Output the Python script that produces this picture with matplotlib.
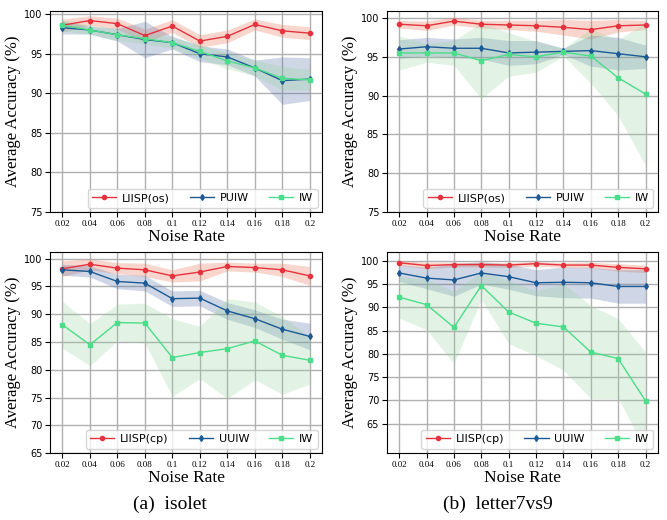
#imports
import matplotlib
matplotlib.use("Agg")
import matplotlib.pyplot as plt
import numpy as np

#noise rates and tick labels
noise = [0.02, 0.04, 0.06, 0.08, 0.1, 0.12, 0.14, 0.16, 0.18, 0.2]
noise_labels = ["0.02", "0.04", "0.06", "0.08", "0.1", "0.12", "0.14", "0.16", "0.18", "0.2"]

#isolet, one-sided (os)
iso_os_liisp = [98.6, 99.2, 98.8, 97.3, 98.5, 96.6, 97.2, 98.7, 97.9, 97.6]
iso_os_liisp_sd = [0.8, 0.6, 0.7, 0.8, 0.8, 0.8, 0.8, 0.7, 0.8, 0.8]
iso_os_puiw = [98.3, 98.0, 97.4, 96.8, 96.4, 95.0, 94.6, 93.2, 91.6, 91.8]
iso_os_puiw_sd = [0.8, 0.5, 0.8, 2.3, 0.8, 1.0, 1.0, 1.0, 3.0, 2.7]
iso_os_iw = [98.6, 98.0, 97.4, 96.9, 96.4, 95.3, 94.1, 93.2, 91.9, 91.7]
iso_os_iw_sd = [0.7, 0.6, 0.7, 0.7, 0.7, 0.9, 1.0, 1.0, 1.5, 1.3]

#letter7vs9, one-sided (os)
let_os_liisp = [99.2, 99.0, 99.6, 99.2, 99.1, 99.0, 98.8, 98.5, 99.0, 99.1]
let_os_liisp_sd = [0.5, 0.6, 0.5, 0.5, 0.6, 0.7, 1.0, 1.2, 0.8, 0.6]
let_os_puiw = [96.0, 96.3, 96.1, 96.1, 95.5, 95.6, 95.7, 95.8, 95.4, 95.0]
let_os_puiw_sd = [1.2, 1.2, 1.2, 1.4, 1.6, 1.5, 0.4, 2.0, 2.1, 1.5]
let_os_iw = [95.5, 95.5, 95.5, 94.5, 95.3, 95.0, 95.6, 95.1, 92.3, 90.2]
let_os_iw_sd = [2.2, 1.2, 1.6, 4.9, 2.8, 2.0, 0.5, 3.5, 4.9, 9.2]

#isolet, class-prior (cp)
iso_cp_liisp = [98.2, 99.0, 98.3, 98.0, 96.9, 97.6, 98.6, 98.4, 98.0, 96.9]
iso_cp_liisp_sd = [1.4, 1.0, 1.0, 1.2, 1.1, 1.6, 0.8, 0.8, 1.2, 1.7]
iso_cp_uuiw = [98.0, 97.7, 95.9, 95.6, 92.8, 92.9, 90.6, 89.2, 87.3, 86.0]
iso_cp_uuiw_sd = [1.0, 1.0, 1.3, 1.4, 1.4, 1.4, 1.5, 1.6, 1.8, 2.4]
iso_cp_iw = [88.1, 84.5, 88.5, 88.4, 82.2, 83.1, 83.8, 85.2, 82.6, 81.7]
iso_cp_iw_sd = [4.2, 3.8, 3.3, 3.6, 7.0, 4.7, 9.0, 7.0, 7.0, 4.3]

#letter7vs9, class-prior (cp)
let_cp_liisp = [99.6, 99.0, 99.2, 99.2, 99.1, 99.4, 99.1, 99.1, 98.6, 98.3]
let_cp_liisp_sd = [0.5, 0.7, 0.5, 0.5, 0.5, 0.5, 0.5, 0.6, 0.8, 0.8]
let_cp_uuiw = [97.4, 96.3, 95.9, 97.4, 96.6, 95.3, 95.4, 95.3, 94.5, 94.5]
let_cp_uuiw_sd = [1.8, 2.3, 3.5, 2.4, 2.7, 2.8, 3.3, 3.3, 3.6, 3.6]
let_cp_iw = [92.2, 90.6, 85.7, 94.7, 89.0, 86.6, 85.8, 80.4, 79.0, 69.9]
let_cp_iw_sd = [4.5, 5.4, 7.8, 3.0, 6.8, 7.0, 9.3, 10.0, 8.6, 10.5]

#colours
red, red_fill = "#e5323c", "#ee7a5a"
blue, blue_fill = "#1c5a96", "#5670a8"
green, green_fill = "#4cdd8a", "#8fd39a"

fig = plt.figure(figsize=(6.67, 5.2), dpi=100)

#panel positions in figure fractions
positions = [[0.075, 0.5923, 0.408, 0.3865],
             [0.580, 0.5923, 0.4063, 0.3865],
             [0.075, 0.1288, 0.408, 0.3865],
             [0.580, 0.1288, 0.4063, 0.3865]]

panels = [
    (iso_os_liisp, iso_os_liisp_sd, iso_os_puiw, iso_os_puiw_sd, iso_os_iw, iso_os_iw_sd,
     ["LIISP(os)", "PUIW", "IW"], (75, 100.4), [75, 80, 85, 90, 95, 100]),
    (let_os_liisp, let_os_liisp_sd, let_os_puiw, let_os_puiw_sd, let_os_iw, let_os_iw_sd,
     ["LIISP(os)", "PUIW", "IW"], (75, 100.9), [75, 80, 85, 90, 95, 100]),
    (iso_cp_liisp, iso_cp_liisp_sd, iso_cp_uuiw, iso_cp_uuiw_sd, iso_cp_iw, iso_cp_iw_sd,
     ["LIISP(cp)", "UUIW", "IW"], (65, 101.2), [65, 70, 75, 80, 85, 90, 95, 100]),
    (let_cp_liisp, let_cp_liisp_sd, let_cp_uuiw, let_cp_uuiw_sd, let_cp_iw, let_cp_iw_sd,
     ["LIISP(cp)", "UUIW", "IW"], (58.7, 101.9), [65, 70, 75, 80, 85, 90, 95, 100]),
]

x = np.array(noise)
for pos, p in zip(positions, panels):
    ax = fig.add_axes(pos)
    m1, s1, m2, s2, m3, s3, names, ylim, yticks = p
    m1, s1, m2, s2, m3, s3 = [np.array(a) for a in (m1, s1, m2, s2, m3, s3)]

    #shaded std bands
    ax.fill_between(x, m1 - s1, m1 + s1, color=red_fill, alpha=0.3, lw=0)
    ax.fill_between(x, m2 - s2, m2 + s2, color=blue_fill, alpha=0.28, lw=0)
    ax.fill_between(x, m3 - s3, m3 + s3, color=green_fill, alpha=0.25, lw=0)

    #mean lines
    ax.plot(x, m1, color=red, marker="o", ms=3, lw=1, label=names[0])
    ax.plot(x, m2, color=blue, marker="d", ms=3, lw=1, label=names[1])
    ax.plot(x, m3, color=green, marker="s", ms=3.5, lw=1, label=names[2])

    ax.set_xlim(0.011, 0.209)
    ax.set_ylim(*ylim)
    ax.set_xticks(noise)
    ax.set_xticklabels(noise_labels, family="Liberation Serif", fontsize=6.5)
    ax.set_yticks(yticks)
    ax.tick_params(axis="y", labelsize=7, pad=2)
    ax.tick_params(axis="x", pad=2)
    ax.grid(color="#b0b0b0", lw=1)
    ax.set_axisbelow(True)
    ax.set_xlabel("Noise Rate", family="Liberation Serif", fontsize=12.5, labelpad=1)
    ax.set_ylabel("Average Accuracy (%)", family="Liberation Serif", fontsize=12, labelpad=2)
    ax.legend(loc="lower right", ncol=3, fontsize=8, handlelength=2.2,
              handletextpad=0.5, columnspacing=1.8, borderaxespad=0.4, framealpha=0.8)

#sub captions
fig.text(0.255, 0.03, "(a)  isolet", family="Liberation Serif", fontsize=14,
         ha="center", va="center")
fig.text(0.747, 0.03, "(b)  letter7vs9", family="Liberation Serif", fontsize=14,
         ha="center", va="center")

plt.savefig("out.png", dpi=100)
